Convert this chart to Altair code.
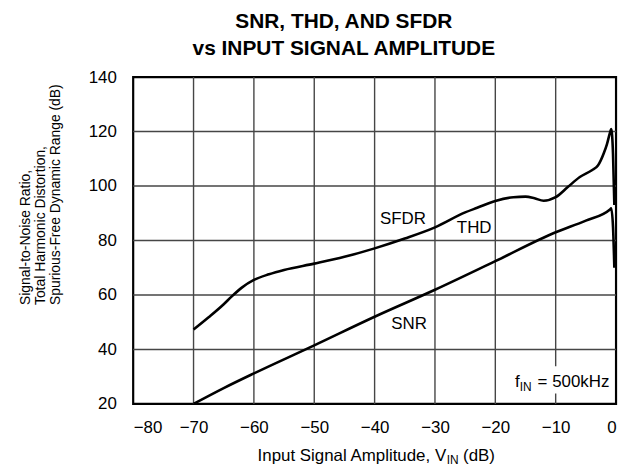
import altair as alt
import pandas as pd

# ---- data ----
sfdr_x = [-70, -67.5, -65, -63.7, -62, -60, -57.5, -55, -50, -45, -40, -35, -30,
          -25, -23, -20, -17, -15, -13.5, -12, -10, -8, -6, -4, -3, -2, -1.5, -1, -0.8,
          -0.5, -0.28]
sfdr_y = [47.3, 51.8, 56.6, 59.4, 62.7, 65.5, 67.6, 69.2, 71.5, 74.0, 77.1, 80.7, 84.8,
          90.3, 92.0, 94.5, 95.9, 96.1, 95.5, 94.6, 95.9, 99.6, 103.3, 105.8, 107.5, 112.2,
          115.4, 119.6, 120.9, 111.8, 93.0]

snr_x = [-70, -65, -60, -50, -40, -30, -20, -10, -5, -1, -0.8, -0.5, -0.28]
snr_y = [20.0, 25.8, 31.2, 41.5, 52.0, 61.9, 72.4, 83.0, 87.3, 91.4, 91.8, 85.0, 70.0]

x_ticks = [-80, -70, -60, -50, -40, -30, -20, -10, 0]
y_ticks = [20, 40, 60, 80, 100, 120, 140]

title_lines = ["SNR, THD, AND SFDR", "vs INPUT SIGNAL AMPLITUDE"]
y_title = ["Signal-to-Noise Ratio,", "Total Harmonic Distortion,",
           "Spurious-Free Dynamic Range (dB)"]

df = pd.concat([
    pd.DataFrame({"x": sfdr_x, "y": sfdr_y, "series": "SFDR"}),
    pd.DataFrame({"x": snr_x, "y": snr_y, "series": "SNR"}),
])

FONT = "Liberation Sans"
W, H = 486, 329
one = pd.DataFrame({"k": [0]})
GRID = "rgb(70,70,70)"

xscale = alt.Scale(domain=[-80, 0], nice=False, zero=False)
yscale = alt.Scale(domain=[20, 140], nice=False, zero=False)

# grid lines drawn from the tick arrays
vgrid = alt.Chart(pd.DataFrame({"v": x_ticks[1:-1]})).mark_rule(
    color=GRID, strokeWidth=1.4
).encode(x=alt.X("v:Q", scale=xscale), y=alt.value(0), y2=alt.value(H))
hgrid = alt.Chart(pd.DataFrame({"v": y_ticks[1:-1]})).mark_rule(
    color=GRID, strokeWidth=1.4
).encode(y=alt.Y("v:Q", scale=yscale), x=alt.value(0), x2=alt.value(W))

# white box behind the frequency note (in data coordinates)
box = alt.Chart(one).mark_rect(color="white").encode(
    x=alt.datum(-18.8), x2=alt.datum(-0.6), y=alt.datum(33.8), y2=alt.datum(23.8)
)

lines = alt.Chart(df).mark_line(
    color="black", strokeWidth=2.6, interpolate="monotone"
).encode(
    x=alt.X("x:Q", scale=xscale, title=None,
            axis=alt.Axis(values=x_ticks, grid=False,
                          domain=False, ticks=False, labelPadding=16,
                          labelFont=FONT, labelFontSize=17, labelColor="black",
                          labelExpr="datum.value < 0 ? '\u2212' + abs(datum.value) : '' + datum.value")),
    y=alt.Y("y:Q", scale=yscale,
            axis=alt.Axis(values=y_ticks, grid=False,
                          domain=False, ticks=False, labelPadding=17,
                          labelFont=FONT, labelFontSize=17, labelColor="black",
                          title=y_title, titleFont=FONT, titleFontSize=14,
                          titleFontWeight="normal", titleColor="black",
                          titleAngle=270, titleAlign="left", titleBaseline="top",
                          titleX=-115, titleY=229, titleLineHeight=15)),
    detail="series:N",
)

def label(txt, x, y, size=17):
    return alt.Chart(one).mark_text(
        text=txt, font=FONT, fontSize=size, color="black", baseline="middle", align="center"
    ).encode(x=alt.datum(x), y=alt.datum(y))

lab_sfdr = label("SFDR", -35.3, 87.9)
lab_thd = label("THD", -23.5, 84.6)
lab_snr = label("SNR", -34.3, 49.3)

def ptext(txt, x, y, size=17, align="left", weight="normal"):
    return alt.Chart(one).mark_text(
        text=txt, font=FONT, fontSize=size, color="black", align=align,
        baseline="alphabetic", fontWeight=weight
    ).encode(x=alt.value(x), y=alt.value(y))

f_note = [
    ptext("f", 389, 311.6, align="right"),
    ptext("IN", 389, 316, size=12, align="left"),
    ptext("= 500kHz", 479.3, 311.6, align="right"),
]

x_title = [
    ptext("Input Signal Amplitude, V", 315, 386.5, align="right"),
    ptext("IN", 315.5, 389.5, size=12, align="left"),
    ptext("(dB)", 332, 386.5, align="left"),
]

title = [
    ptext(title_lines[0], 212, -49, size=21, align="center", weight="bold"),
    ptext(title_lines[1], 212, -22.4, size=21, align="center", weight="bold"),
]

chart = alt.layer(
    vgrid, hgrid, box, lines, lab_sfdr, lab_thd, lab_snr, *f_note, *x_title, *title
).properties(
    width=W, height=H,
    autosize=alt.AutoSizeParams(type="none"),
    padding={"left": 126, "top": 68, "right": 5, "bottom": 62},
    background="white",
).configure_view(
    stroke="black", strokeWidth=2.2
)

chart.save("out.html", embed_options={"renderer": "svg", "actions": False})
